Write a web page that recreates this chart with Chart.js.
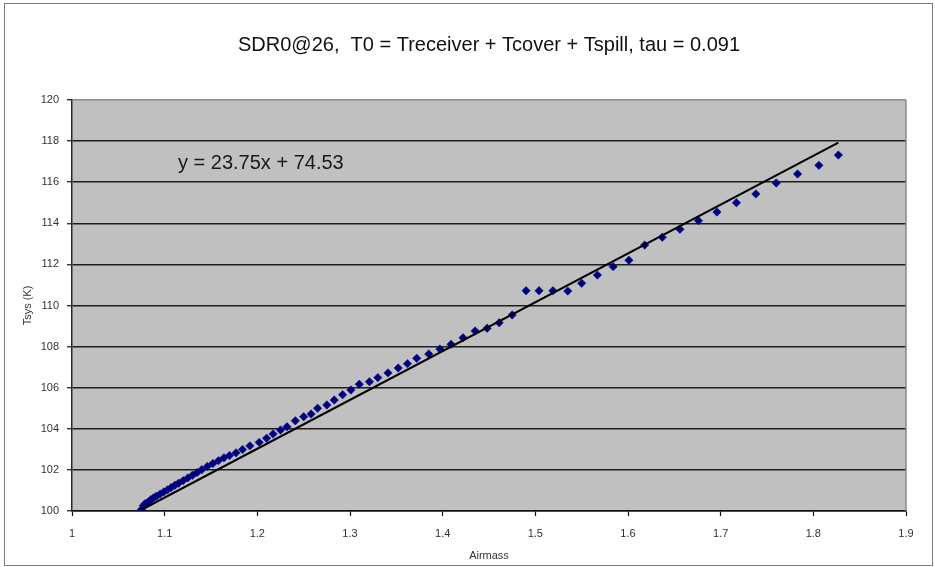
<!DOCTYPE html>
<html>
<head>
<meta charset="utf-8">
<title>SDR0@26 Tsys vs Airmass</title>
<script src="https://cdn.jsdelivr.net/npm/chart.js@4"></script>
<style>
  html, body { margin: 0; padding: 0; background: #fff; }
  #wrap { width: 935px; height: 567px; }
</style>
</head>
<body>
<div id="wrap"><canvas id="chart" width="935" height="567"></canvas></div>
<script>
// Measured system temperature against airmass for the elevation scan
const airmass = [
  1.075, 1.077, 1.079, 1.082, 1.085, 1.088, 1.091, 1.095, 1.099, 1.103,
  1.107, 1.111, 1.115, 1.120, 1.125, 1.130, 1.135, 1.140, 1.146, 1.152,
  1.158, 1.164, 1.170, 1.177, 1.184, 1.192, 1.202, 1.210, 1.217, 1.225,
  1.232, 1.241, 1.250, 1.258, 1.265, 1.275, 1.283, 1.292, 1.301, 1.310,
  1.321, 1.330, 1.341, 1.352, 1.362, 1.372, 1.385, 1.397, 1.409, 1.422,
  1.435, 1.448, 1.461, 1.475, 1.490, 1.504, 1.519, 1.535, 1.550, 1.567,
  1.584, 1.601, 1.618, 1.637, 1.656, 1.676, 1.696, 1.717, 1.738, 1.760,
  1.783, 1.806, 1.827
];
const tsys = [
  100.08, 100.26, 100.36, 100.43, 100.55, 100.64, 100.72, 100.82, 100.93, 101.03,
  101.14, 101.25, 101.35, 101.48, 101.61, 101.74, 101.87, 102.01, 102.17, 102.31,
  102.45, 102.59, 102.70, 102.83, 102.99, 103.17, 103.34, 103.54, 103.75, 103.94,
  104.10, 104.39, 104.59, 104.72, 105.00, 105.16, 105.40, 105.66, 105.89, 106.17,
  106.29, 106.49, 106.72, 106.96, 107.17, 107.43, 107.64, 107.88, 108.11, 108.43,
  108.76, 108.89, 109.16, 109.54, 110.72, 110.72, 110.72, 110.70, 111.08, 111.48,
  111.89, 112.20, 112.94, 113.32, 113.71, 114.13, 114.55, 115.00, 115.43, 115.96,
  116.40, 116.82, 117.32
];

// Linear fit  y = slope * x + intercept
const trendSlope = 23.75;
const trendIntercept = 74.53;
const trendRange = [1.075, 1.827];

// Axis ticks
const xTicks = [1, 1.1, 1.2, 1.3, 1.4, 1.5, 1.6, 1.7, 1.8, 1.9];
const yTicks = [100, 102, 104, 106, 108, 110, 112, 114, 116, 118, 120];

const titleText = 'SDR0@26,  T0 = Treceiver + Tcover + Tspill, tau = 0.091';
const equationText = `y = ${trendSlope.toFixed(2)}x + ${trendIntercept.toFixed(2)}`;
const FONT = "'Liberation Sans', Arial, Helvetica, sans-serif";

const points = airmass.map((a, i) => ({ x: a, y: tsys[i] }));
const trend = trendRange.map(a => ({ x: a, y: trendSlope * a + trendIntercept }));

// Frame, grey plot area, right edge and the fit equation
const plotDecor = {
  id: 'plotDecor',
  beforeDraw(chart) {
    const { ctx, chartArea: a } = chart;
    ctx.save();
    ctx.fillStyle = '#ffffff';
    ctx.fillRect(0, 0, chart.width, chart.height);
    ctx.strokeStyle = '#7a7a7a';
    ctx.lineWidth = 1;
    ctx.strokeRect(4.5, 3.5, 928, 562);
    ctx.fillStyle = '#c0c0c0';
    ctx.fillRect(a.left, a.top, a.right - a.left, a.bottom - a.top);
    ctx.restore();
  },
  beforeDatasetsDraw(chart) {
    const { ctx, chartArea: a, scales } = chart;
    ctx.save();
    ctx.strokeStyle = '#8a8a8a';
    ctx.lineWidth = 1.5;
    ctx.beginPath();
    ctx.moveTo(a.right, a.top);
    ctx.lineTo(a.right, a.bottom);
    ctx.stroke();
    ctx.fillStyle = '#1a1a1a';
    ctx.font = `20px ${FONT}`;
    ctx.textAlign = 'left';
    ctx.textBaseline = 'alphabetic';
    ctx.fillText(equationText, scales.x.getPixelForValue(1.1144), scales.y.getPixelForValue(116.64));
    ctx.restore();
  }
};

new Chart(document.getElementById('chart'), {
  type: 'scatter',
  data: {
    datasets: [
      {
        type: 'line',
        label: 'Linear fit',
        data: trend,
        borderColor: '#000000',
        borderWidth: 2,
        pointRadius: 0,
        fill: false
      },
      {
        label: 'Tsys',
        data: points,
        pointStyle: 'rectRot',
        pointRadius: 4.2,
        backgroundColor: '#000080',
        borderColor: '#000080',
        borderWidth: 0.5
      }
    ]
  },
  options: {
    responsive: false,
    animation: false,
    devicePixelRatio: 1,
    layout: { padding: { left: 0, right: 29, top: 0, bottom: 0 } },
    plugins: {
      legend: { display: false },
      tooltip: { enabled: false },
      title: {
        display: true,
        text: titleText,
        fullSize: false,
        color: '#111111',
        font: { family: FONT, size: 20, weight: 'normal', lineHeight: 1.2 },
        padding: { top: 33, bottom: 43 }
      }
    },
    scales: {
      x: {
        type: 'linear',
        min: 1,
        max: 1.9,
        afterFit(scale) { scale.height = 56; },
        afterBuildTicks(scale) { scale.ticks = xTicks.map(v => ({ value: v })); },
        ticks: {
          color: '#333333',
          font: { family: FONT, size: 11 },
          padding: 11,
          maxRotation: 0,
          autoSkip: false,
          callback: v => String(v)
        },
        grid: {
          drawOnChartArea: false,
          drawTicks: true,
          tickLength: 5,
          tickColor: '#111111',
          tickWidth: 1.2
        },
        border: { display: true, color: '#111111', width: 1.5 },
        title: {
          display: true,
          text: 'Airmass',
          color: '#333333',
          font: { family: FONT, size: 11 },
          padding: { top: 0, bottom: 4.5 }
        }
      },
      y: {
        type: 'linear',
        min: 100,
        max: 120,
        afterFit(scale) { scale.width = 72; },
        afterBuildTicks(scale) { scale.ticks = yTicks.map(v => ({ value: v })); },
        ticks: {
          color: '#333333',
          font: { family: FONT, size: 11 },
          padding: 8,
          autoSkip: false,
          callback: v => String(v)
        },
        grid: {
          drawOnChartArea: true,
          drawTicks: true,
          tickLength: 5,
          color: ctx => (ctx.tick && ctx.tick.value === 120 ? '#8a8a8a' : '#1e1e1e'),
          lineWidth: 1.5,
          tickColor: '#111111',
          tickWidth: 1.2
        },
        border: { display: true, color: '#2a2a2a', width: 1.5 },
        title: {
          display: true,
          text: 'Tsys (K)',
          color: '#333333',
          font: { family: FONT, size: 11 },
          padding: { top: 21, bottom: 0 }
        }
      }
    }
  },
  plugins: [plotDecor]
});
</script>
</body>
</html>
